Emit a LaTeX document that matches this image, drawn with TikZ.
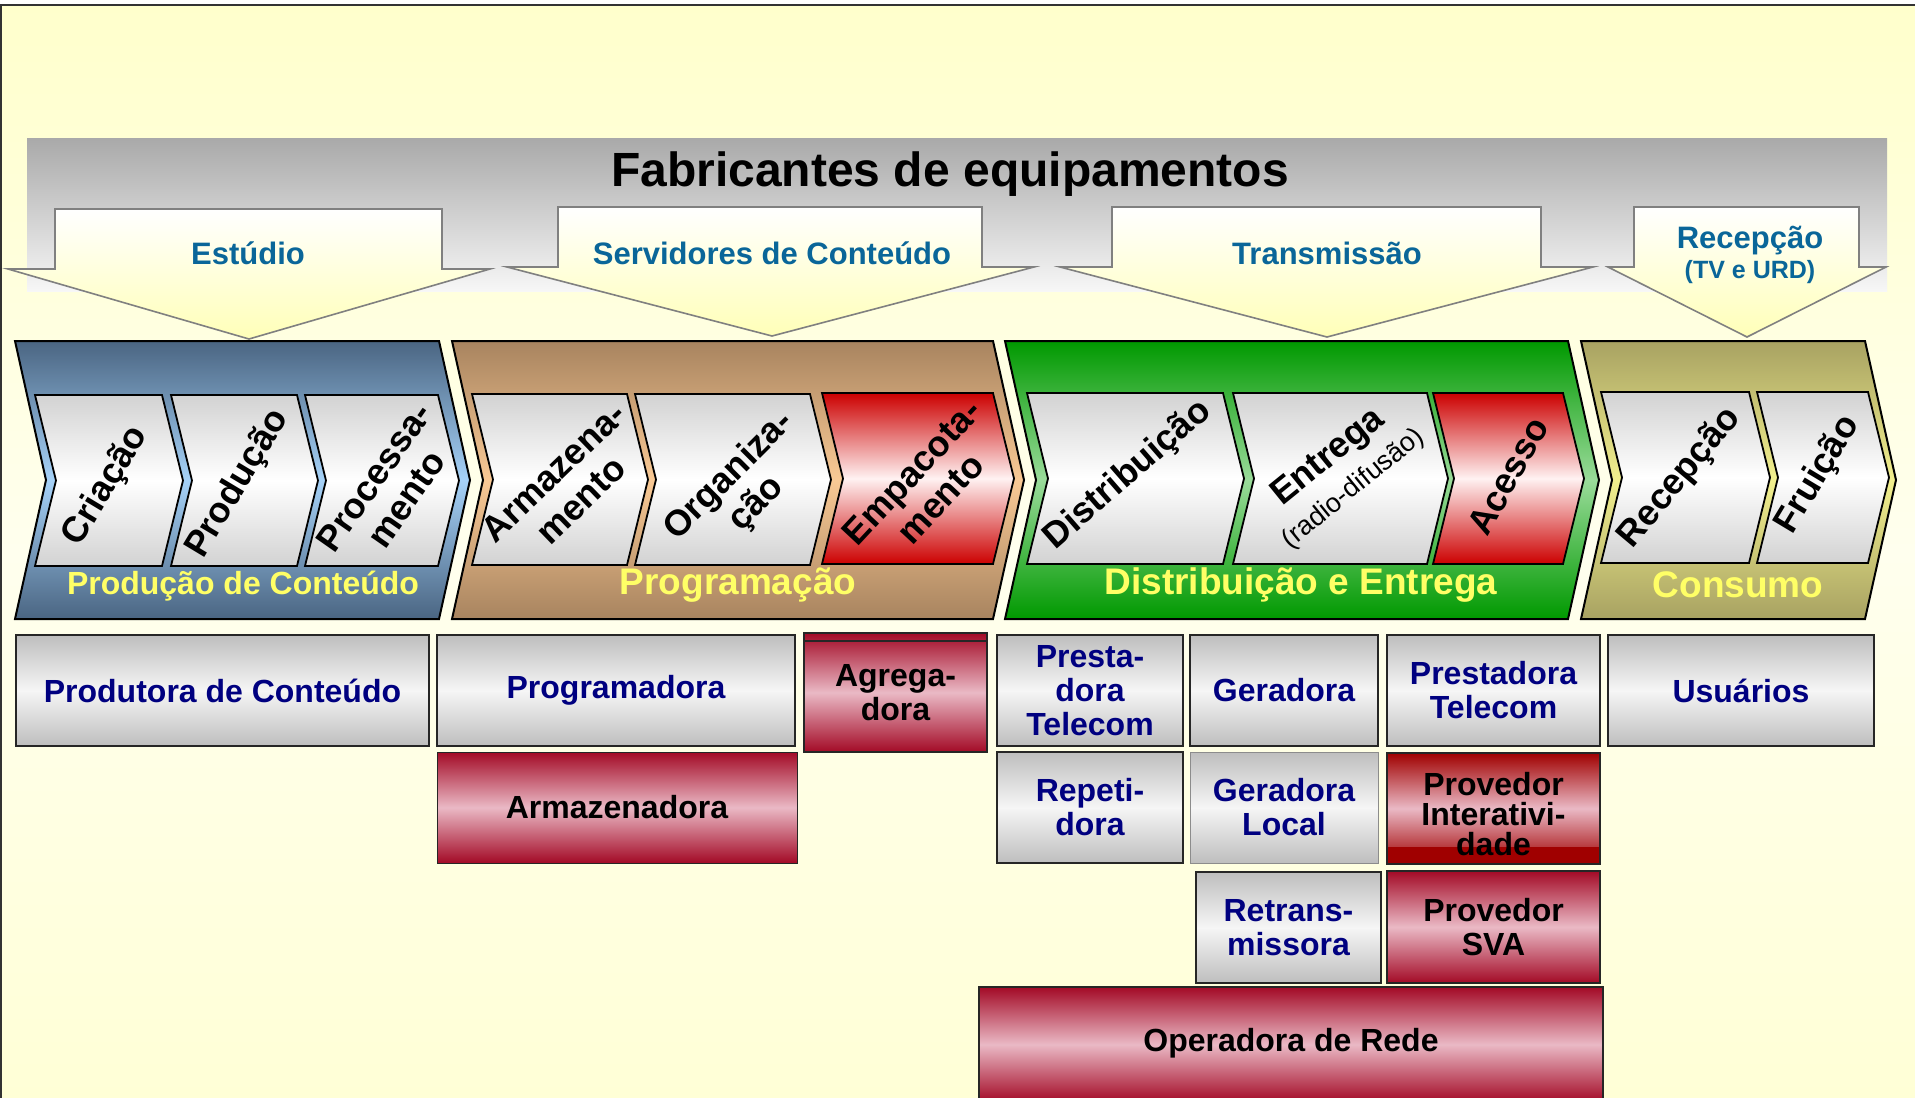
\documentclass[tikz,border=0pt]{standalone}
\usepackage{fontspec}
\setmainfont{Liberation Sans}
\definecolor{bgtop}{HTML}{FFFFCC}
\definecolor{bgmid}{HTML}{FFFFEE}
\definecolor{bgbot}{HTML}{FFFFD6}
\definecolor{banTop}{HTML}{A9A9A9}
\definecolor{banBot}{HTML}{F7F7F7}
\definecolor{arrY}{HTML}{FFFFB8}
\definecolor{lbl}{HTML}{0A6699}
\definecolor{navyT}{HTML}{000080}
\definecolor{ylw}{HTML}{FFFF66}
\definecolor{bluD}{HTML}{4A6582}
\definecolor{bluL}{HTML}{A6D2F8}
\definecolor{brnD}{HTML}{A8845F}
\definecolor{brnL}{HTML}{F9C995}
\definecolor{grnD}{HTML}{009900}
\definecolor{grnL}{HTML}{9ADB9A}
\definecolor{olvD}{HTML}{A8A262}
\definecolor{olvL}{HTML}{F2F08E}
\definecolor{chG}{HTML}{D2D2D2}
\definecolor{chR}{HTML}{CC0000}
\definecolor{chP}{HTML}{FFF2F2}
\definecolor{bxG}{HTML}{BEBEBE}
\definecolor{bxW}{HTML}{F6F6F6}
\definecolor{bxR}{HTML}{A30A26}
\definecolor{bxP}{HTML}{EAB9C5}
\definecolor{bxDR}{HTML}{A00000}
% chevron: style, xl, xr, top, bottom, depth
\newcommand{\mychev}[6]{%
  \draw[#1] (#2,#4) -- (#3,#4) -- ({#3+#6},{(#4+#5)/2}) -- (#3,#5) -- (#2,#5) -- ({#2+#6},{(#4+#5)/2}) -- cycle;}
% down arrow: shaft left, shaft right, top, shoulder, outer left, outer right, tip x, tip y
\newcommand{\myarrow}[8]{%
  \draw[toparrow] (#1,#3) -- (#2,#3) -- (#2,#4) -- (#6,#4) -- (#7,#8) -- (#5,#4) -- (#1,#4) -- cycle;}
% box: name, style, xl, xr, top, bottom, text
\newcommand{\mybox}[7]{%
  \node[#2, minimum width={(#4-#3)*1pt}, minimum height={(#6-#5)*1pt}] (#1) at ({(#3+#4)/2},{(#5+#6)/2}) {#7};}
\begin{document}
\begin{tikzpicture}[x=1pt,y=-1pt,
  toparrow/.style={draw=black!50, line width=1.6pt, top color=white, bottom color=arrY},
  arrlbl/.style={text=lbl, font=\bfseries\fontsize{31}{34}\selectfont, inner sep=0},
  bigsty/.style={draw=black, line width=2pt},
  greych/.style={draw=black, line width=1.8pt, top color=chG, bottom color=chG, middle color=white},
  redch/.style={draw=black, line width=1.8pt, top color=chR, bottom color=chR, middle color=chP},
  inlbl/.style={font=\bfseries\fontsize{36}{39}\selectfont, align=center, inner sep=0},
  grplbl/.style={text=ylw, font=\bfseries\fontsize{37}{40}\selectfont, inner sep=0},
  greybox/.style={draw=black!85, line width=2pt, top color=bxG, bottom color=bxG, middle color=bxW, text=navyT, font=\bfseries\fontsize{32}{34}\selectfont, align=center, inner sep=0},
  redbox/.style={draw=black!85, line width=2pt, top color=bxR, bottom color=bxR, middle color=bxP, text=black, font=\bfseries\fontsize{32}{34}\selectfont, align=center, inner sep=0}
]
\useasboundingbox (0,0) rectangle (1915,1098);
\fill[white] (0,0) rectangle (1915,1098);
\fill[top color=bgtop, bottom color=bgbot, middle color=bgmid] (0,5) rectangle (1915,1098);
\draw[line width=2pt, black!80] (0,5) -- (1915,5);
\draw[line width=2pt, black!80] (1,5) -- (1,1098);

% banner
\fill[top color=banTop, bottom color=banBot] (27,138) rectangle (1887,291);
\node[font=\bfseries\fontsize{48}{52}\selectfont, inner sep=0] (title) at (950,174) {Fabricantes de equipamentos};

% top arrows
\myarrow{55}{442}{209}{269}{8}{490}{249}{339}
\myarrow{558}{982}{207}{267}{507}{1034}{772}{336}
\myarrow{1112}{1541}{207}{267}{1060}{1593}{1327}{337}
\myarrow{1634}{1859}{207}{267}{1608}{1886}{1747}{337}
\node[arrlbl] (estudio) at (248,253) {Estúdio};
\node[arrlbl] (servidores) at (772,253) {Servidores de Conteúdo};
\node[arrlbl] (transmissao) at (1327,253) {Transmissão};
\node[arrlbl] (recepcaoA) at (1750,241) {Recepção};
\node[text=lbl, font=\bfseries\fontsize{25}{28}\selectfont, inner sep=0] (tvurd) at (1750,272) {(TV e URD)};

% big chevrons
\mychev{bigsty, top color=bluD, bottom color=bluD, middle color=bluL}{15}{439}{341}{619}{31}
\mychev{bigsty, top color=brnD, bottom color=brnD, middle color=brnL}{452}{993}{341}{619}{31}
\mychev{bigsty, top color=grnD, bottom color=grnD, middle color=grnL}{1005}{1568}{341}{619}{31}
\mychev{bigsty, top color=olvD, bottom color=olvD, middle color=olvL}{1581}{1865}{341}{619}{31}

% inner chevrons
\mychev{greych}{35}{162}{395}{566}{21}
\mychev{greych}{171}{297}{395}{566}{21}
\mychev{greych}{305}{438}{395}{566}{21}
\mychev{greych}{472}{627}{394}{565}{21}
\mychev{greych}{635}{810}{394}{565}{21}
\mychev{redch}{822}{993}{393}{564}{21}
\mychev{greych}{1027}{1223}{393}{564}{21}
\mychev{greych}{1233}{1427}{393}{564}{21}
\mychev{redch}{1433}{1563}{393}{564}{21}
\mychev{greych}{1601}{1749}{392}{563}{21}
\mychev{greych}{1757}{1868}{392}{563}{21}

% inner labels
\node[inlbl, rotate=59] (criacao) at (106,486) {Criação};
\node[inlbl, rotate=59] (producao) at (238,484) {Produção};
\node[inlbl, rotate=55] (processamento) at (390,488) {Processa-\\mento};
\node[inlbl, rotate=44] (armazenamento) at (567,486) {Armazena-\\mento};
\node[inlbl, rotate=45] (organizacao) at (743,490) {Organiza-\\ção};
\node[inlbl, rotate=47] (empacotamento) at (926,485) {Empacota-\\mento};
\node[inlbl, rotate=41] (distribuicao) at (1128,475) {Distribuição};
\node[inlbl, rotate=39] (entrega) at (1340,472) {Entrega\\[-1pt]{\mdseries\fontsize{27}{29}\selectfont (radio-difusão)}};
\node[inlbl, rotate=61] (acesso) at (1508,476) {Acesso};
\node[inlbl, rotate=50] (recepcao) at (1680,478) {Recepção};
\node[inlbl, rotate=59] (fruicao) at (1818,475) {Fruição};

% group labels
\node[grplbl, font=\bfseries\fontsize{32}{36}\selectfont] (grpprod) at (243,586) {Produção de Conteúdo};
\node[grplbl] (grpprog) at (738,585) {Programação};
\node[grplbl] (grpdist) at (1301,585) {Distribuição e Entrega};
\node[grplbl] (grpcons) at (1738,585) {Consumo};

% lower boxes
\mybox{produtora}{greybox}{16}{429}{635}{746}{Produtora de Conteúdo}
\mybox{programadora}{greybox}{437}{795}{635}{746}{Programadora}
\mybox{agregadora}{redbox}{804}{987}{633}{752}{Agrega-\\dora}
\draw[line width=2pt, black!85] (804,641) -- (987,641);
\mybox{prestadora1}{greybox}{997}{1183}{635}{746}{Presta-\\dora\\Telecom}
\mybox{geradora}{greybox}{1190}{1378}{635}{746}{Geradora}
\mybox{prestadora2}{greybox}{1387}{1600}{635}{746}{Prestadora\\Telecom}
\mybox{usuarios}{greybox}{1608}{1874}{635}{746}{Usuários}

\mybox{armazenadora}{redbox, line width=1pt}{437}{797}{752}{863}{Armazenadora}
\mybox{repetidora}{greybox}{997}{1183}{752}{863}{Repeti-\\dora}
\mybox{geradoralocal}{greybox, draw=black!45, line width=1pt}{1190}{1378}{752}{863}{Geradora\\Local}
\path[draw=black!85, line width=2pt, top color=bxDR, bottom color=bxDR, middle color=bxP] (1387,753) rectangle (1600,864);
\fill[bxDR] (1388,847) rectangle (1599,863);
\node[font=\bfseries\fontsize{32}{30}\selectfont, align=center, inner sep=0] (provinter) at (1493.5,814) {Provedor\\Interativi-\\dade};

\mybox{retransmissora}{greybox}{1196}{1381}{872}{983}{Retrans-\\missora}
\mybox{provsva}{redbox}{1387}{1600}{871}{983}{Provedor\\SVA}
\draw[draw=black!85, line width=2pt, top color=bxR, bottom color=bxR, middle color=bxP] (979,987) rectangle (1603,1102);
\node[font=\bfseries\fontsize{32}{34}\selectfont, inner sep=0] (operadora) at (1291,1043) {Operadora de Rede};
\end{tikzpicture}
\end{document}
